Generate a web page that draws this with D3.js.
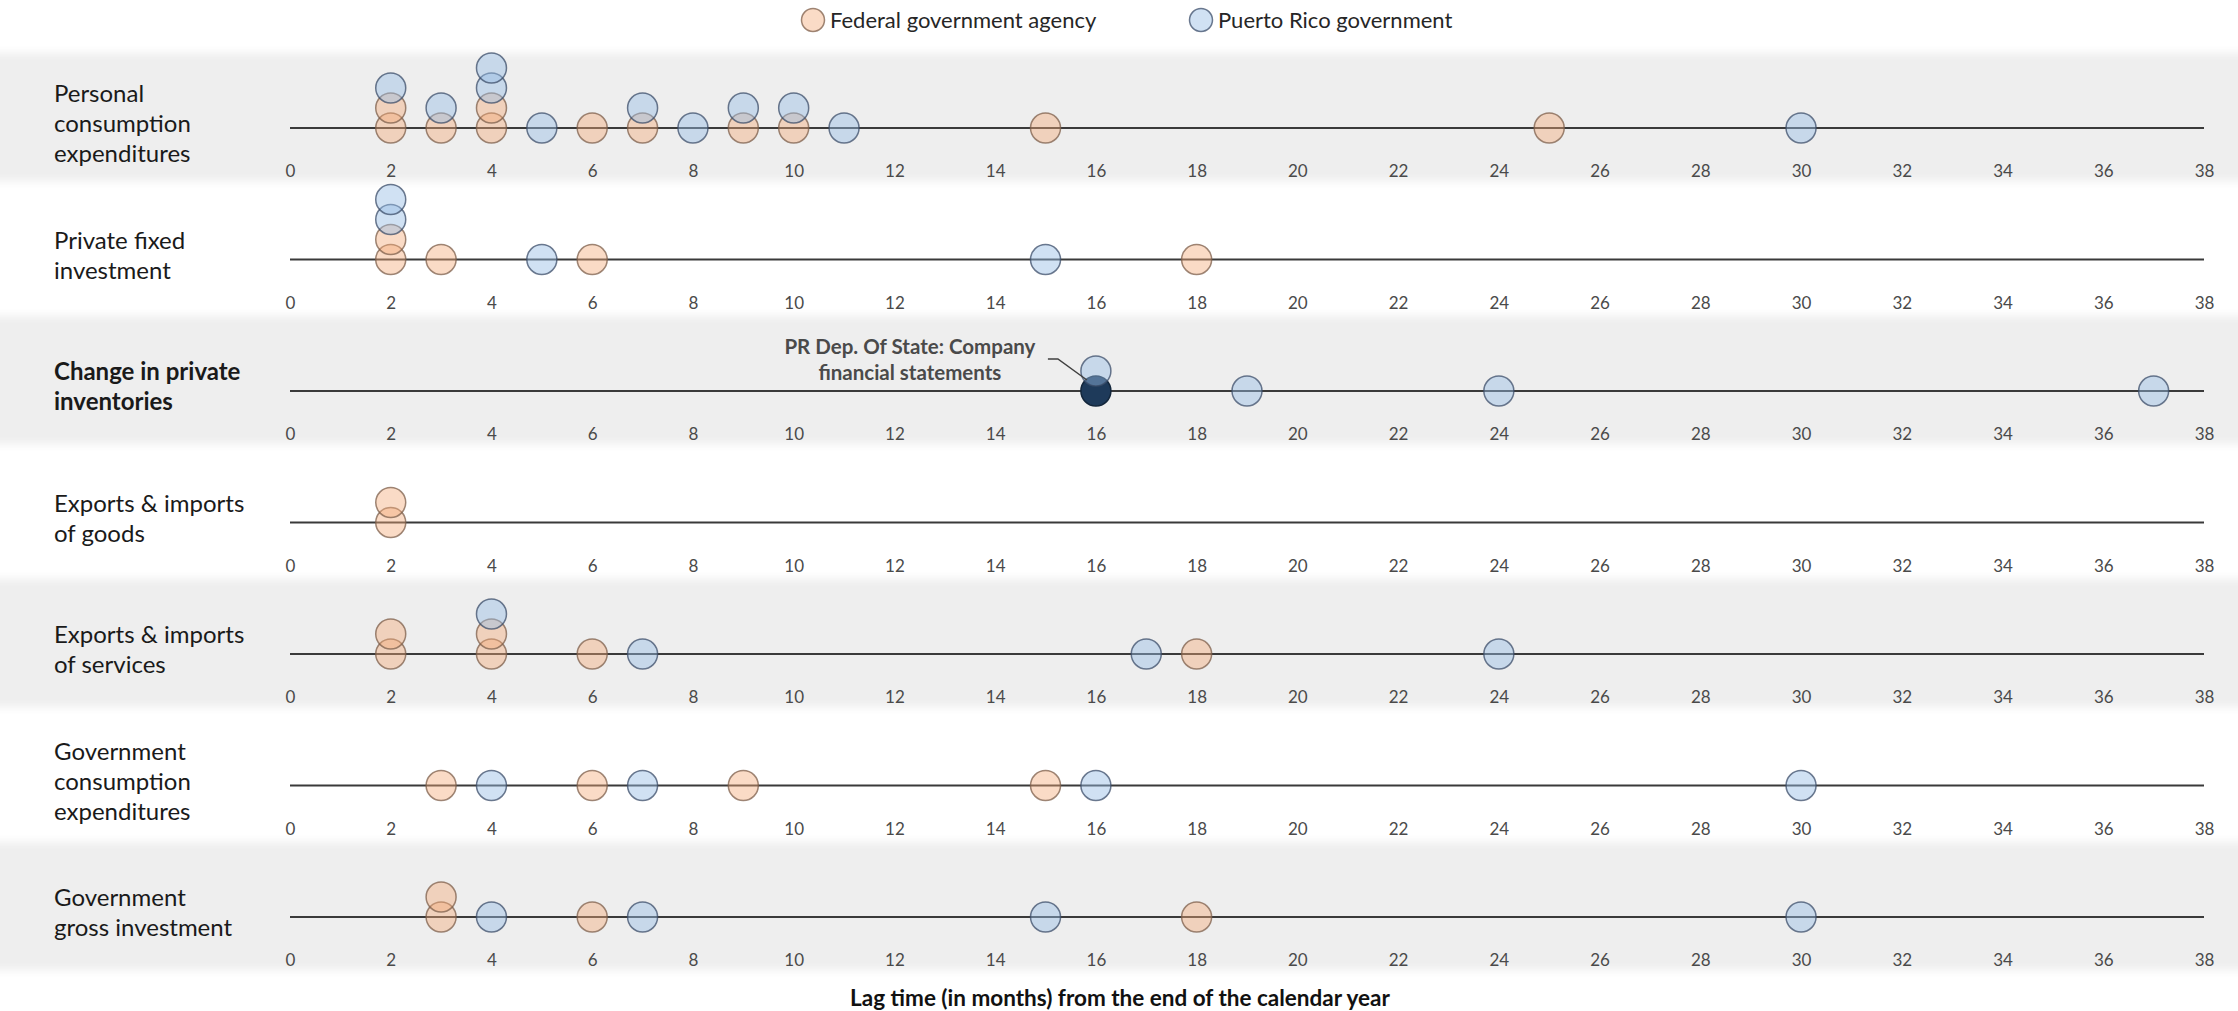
<!DOCTYPE html>
<html>
<head>
<meta charset="utf-8">
<script src="https://cdn.jsdelivr.net/npm/d3@7"></script>
<style>
  html, body { margin: 0; padding: 0; background: #ffffff; }
  svg { display: block; }
</style>
</head>
<body>
<svg id="chart" width="2238" height="1011"></svg>
<script>
// ---------------- DATA ----------------
const rowLabels = [
  ["Personal", "consumption", "expenditures"],
  ["Private fixed", "investment"],
  ["Change in private", "inventories"],
  ["Exports & imports", "of goods"],
  ["Exports & imports", "of services"],
  ["Government", "consumption", "expenditures"],
  ["Government", "gross investment"]
];
const boldRows = [2];

// Lag (months) of each source, per row
const federalLags = [
  [2, 2, 3, 4, 4, 6, 7, 9, 10, 15, 25],
  [2, 2, 3, 6, 18],
  [],
  [2, 2],
  [2, 2, 4, 4, 6, 18],
  [3, 6, 9, 15],
  [3, 3, 6, 18]
];
const prLags = [
  [2, 3, 4, 4, 5, 7, 8, 9, 10, 11, 30],
  [2, 2, 5, 15],
  [16, 16, 19, 24, 37],
  [],
  [4, 7, 17, 24],
  [4, 7, 16, 30],
  [4, 7, 15, 30]
];
const tickValues = [0, 2, 4, 6, 8, 10, 12, 14, 16, 18, 20, 22, 24, 26, 28, 30, 32, 34, 36, 38];
const seriesNames = ["Federal government agency", "Puerto Rico government"];
const highlight = { row: 2, lag: 16, label: ["PR Dep. Of State: Company", "financial statements"] };
const axisTitle = "Lag time (in months) from the end of the calendar year";

// ---------------- LAYOUT ----------------
const W = 2238, H = 1011;
const svg = d3.select("#chart");
const x = d3.scaleLinear().domain([0, 38]).range([290, 2204]);
const y = d3.scalePoint().domain(d3.range(rowLabels.length)).range([128, 917]);
const R = 15, STEP = 20;
const colors = {
  fed: { fill: "rgba(244,170,120,0.42)", stroke: "rgba(125,95,75,0.75)" },
  pr:  { fill: "rgba(150,188,228,0.45)", stroke: "rgba(60,78,105,0.75)" }
};
const font = "Lato, 'Open Sans', sans-serif";

// blur filter for the soft grey bands
const defs = svg.append("defs");
defs.append("filter").attr("id", "soft").attr("x", "-5%").attr("y", "-20%").attr("width", "110%").attr("height", "140%")
  .append("feGaussianBlur").attr("stdDeviation", 4);

// background bands
svg.append("g").selectAll("rect")
  .data(d3.range(rowLabels.length).filter(i => i % 2 === 0))
  .join("rect")
  .attr("x", -20).attr("width", W + 40)
  .attr("y", i => y(i) - 75).attr("height", 128)
  .attr("fill", "#eeeeee")
  .attr("filter", "url(#soft)");

// legend
const legend = svg.append("g").attr("font-family", font).attr("font-size", 22).attr("fill", "#262626");
const legendItems = [
  { name: seriesNames[0], c: colors.fed, cx: 813 },
  { name: seriesNames[1], c: colors.pr, cx: 1201 }
];
legendItems.forEach(it => {
  legend.append("circle").attr("cx", it.cx).attr("cy", 20).attr("r", 11.5)
    .attr("fill", it.c.fill).attr("stroke", it.c.stroke).attr("stroke-width", 1.5);
  legend.append("text").attr("x", it.cx + 17).attr("y", 28).text(it.name);
});

// rows
rowLabels.forEach((lines, i) => {
  const g = svg.append("g");
  const cy = y(i);

  // row label
  const lh = 30;
  const t = g.append("text")
    .attr("font-family", font).attr("font-size", 24)
    .attr("font-weight", boldRows.includes(i) ? "bold" : "normal")
    .attr("fill", "#1a1a1a");
  lines.forEach((ln, k) => {
    t.append("tspan").attr("x", 54)
      .attr("y", cy - 4 + (k - (lines.length - 1) / 2) * lh + 8)
      .text(ln);
  });

  // axis line
  g.append("line").attr("x1", x(0)).attr("x2", x(38)).attr("y1", cy).attr("y2", cy)
    .attr("stroke", "#3a3a3a").attr("stroke-width", 2);

  // tick labels
  const ax = g.append("g").attr("transform", `translate(0,${cy + 37})`)
    .call(d3.axisBottom(x).tickValues(tickValues).tickSize(0).tickPadding(0).tickFormat(d3.format("d")));
  ax.select(".domain").remove();
  ax.selectAll("text").attr("font-family", font).attr("font-size", 17).attr("fill", "#4a4a4a");

  // points: stack federal first, then PR
  const counts = new Map();
  const pts = [];
  federalLags[i].forEach(v => {
    const n = counts.get(v) || 0; counts.set(v, n + 1);
    pts.push({ v, n, s: "fed" });
  });
  let hlDone = false;
  prLags[i].forEach(v => {
    const n = counts.get(v) || 0; counts.set(v, n + 1);
    const hl = !hlDone && highlight.row === i && highlight.lag === v;
    if (hl) hlDone = true;
    pts.push({ v, n, s: "pr", hl });
  });
  pts.sort((a, b) => a.n - b.n);
  g.append("g").selectAll("circle").data(pts).join("circle")
    .attr("cx", d => x(d.v)).attr("cy", d => cy - d.n * STEP).attr("r", R)
    .attr("fill", d => d.hl ? "#1e3a5a" : colors[d.s].fill)
    .attr("stroke", d => d.hl ? "#13263b" : colors[d.s].stroke)
    .attr("stroke-width", 1.5);

  // callout
  if (highlight.row === i) {
    const hx = x(highlight.lag);
    g.append("polyline")
      .attr("points", [[hx - 48, cy - 32], [hx - 38, cy - 32], [hx - 9, cy - 11]].map(p => p.join(",")).join(" "))
      .attr("fill", "none").attr("stroke", "#404040").attr("stroke-width", 1.5);
    const ct = g.append("text").attr("font-family", font).attr("font-size", 20.5)
      .attr("font-weight", "bold").attr("fill", "#4a4a4a").attr("text-anchor", "middle");
    highlight.label.forEach((ln, k) => {
      ct.append("tspan").attr("x", hx - 186).attr("y", cy - 37 + k * 26).text(ln);
    });
  }
});

// axis title
svg.append("text").attr("x", 1120).attr("y", 1006)
  .attr("text-anchor", "middle").attr("font-family", font).attr("font-size", 22.5)
  .attr("font-weight", "bold").attr("fill", "#111").text(axisTitle);
</script>
</body>
</html>
